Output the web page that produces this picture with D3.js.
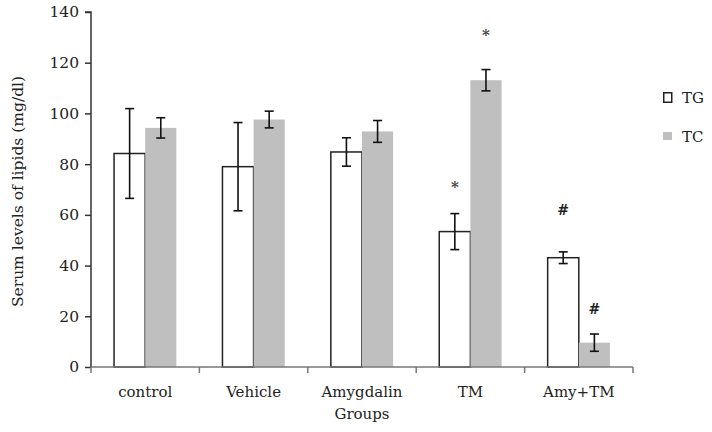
<!DOCTYPE html>
<html><head><meta charset="utf-8">
<script src="https://cdn.jsdelivr.net/npm/d3@7"></script>
<style>body{margin:0;background:#fff;} svg{display:block;} text{-webkit-font-smoothing:antialiased;}</style>
</head><body>
<svg id="c" width="712" height="432"></svg>
<script>
const categories = ["control", "Vehicle", "Amygdalin", "TM", "Amy+TM"];
const seriesNames = ["TG", "TC"];
const tgValues = [84.2, 79.0, 84.8, 53.4, 43.1];
const tgErrors = [17.7, 17.4, 5.6, 7.1, 2.3];
const tcValues = [94.3, 97.6, 92.9, 113.1, 9.6];
const tcErrors = [4.0, 3.3, 4.3, 4.2, 3.4];
const tgMarks = ["", "", "", "*", "#"];
const tcMarks = ["", "", "", "*", "#"];
const tgMarkAt = [0, 0, 0, 72, 62];
const tcMarkAt = [0, 0, 0, 132, 23];
const yTicks = [0, 20, 40, 60, 80, 100, 120, 140];

(function () {
const svg = d3.select("#c");
const font = "DejaVu Serif, Georgia, serif";
const pLeft = 91, pRight = 633, pTop = 12, pBottom = 367;
const x = d3.scaleBand().domain(categories).range([pLeft, pRight]).paddingInner(0).paddingOuter(0);
const x1 = d3.scaleBand().domain(seriesNames).range([0, x.bandwidth()]).paddingOuter(0.74).paddingInner(0);
const y = d3.scaleLinear().domain([0, 140]).range([pBottom, pTop]);
const colors = {TG: "#ffffff", TC: "#bfbfbf"};

const rows = categories.map((c, i) => ({
  cat: c,
  bars: [
    {s: "TG", v: tgValues[i], e: tgErrors[i], m: tgMarks[i], my: tgMarkAt[i]},
    {s: "TC", v: tcValues[i], e: tcErrors[i], m: tcMarks[i], my: tcMarkAt[i]}
  ]
}));

const g = svg.append("g");
const grp = g.selectAll("g.grp").data(rows).enter().append("g")
  .attr("transform", d => `translate(${x(d.cat)},0)`);

grp.selectAll("rect").data(d => d.bars).enter().append("rect")
  .attr("x", d => x1(d.s))
  .attr("y", d => y(d.v))
  .attr("width", x1.bandwidth())
  .attr("height", d => y(0) - y(d.v))
  .attr("fill", d => colors[d.s])
  .attr("stroke", d => d.s === "TG" ? "#222" : "none")
  .attr("stroke-width", 1.5);

const eb = grp.selectAll("g.eb").data(d => d.bars).enter().append("g")
  .attr("stroke", "#111").attr("stroke-width", 1.6);
const cx = d => x1(d.s) + x1.bandwidth() / 2;
eb.append("line").attr("x1", cx).attr("x2", cx).attr("y1", d => y(d.v + d.e)).attr("y2", d => y(d.v - d.e));
eb.append("line").attr("x1", d => cx(d) - 4.5).attr("x2", d => cx(d) + 4.5).attr("y1", d => y(d.v + d.e)).attr("y2", d => y(d.v + d.e));
eb.append("line").attr("x1", d => cx(d) - 4.5).attr("x2", d => cx(d) + 4.5).attr("y1", d => y(d.v - d.e)).attr("y2", d => y(d.v - d.e));

grp.selectAll("text.mk").data(d => d.bars.filter(b => b.m)).enter().append("text")
  .attr("x", cx).attr("y", d => y(d.my))
  .attr("text-anchor", "middle").attr("dominant-baseline", "central")
  .attr("font-family", font)
  .attr("font-size", d => d.m === "#" ? 14 : 15)
  .attr("font-weight", "bold")
  .attr("fill", d => d.m === "#" ? "#222" : "#444")
  .attr("dy", d => d.m === "*" ? 3 : 0)
  .text(d => d.m);

// axes
const yAxis = svg.append("g").attr("transform", `translate(${pLeft},0)`)
  .call(d3.axisLeft(y).tickValues(yTicks).tickSize(6).tickPadding(6));
yAxis.select(".domain").attr("stroke", "#333").attr("stroke-width", 1.5).attr("d", `M-6,${pTop}H0V${pBottom}`);
yAxis.selectAll(".tick line").attr("stroke", "#333").attr("stroke-width", 1.5);
yAxis.selectAll("text").attr("font-family", font).attr("font-size", 15.5).attr("fill", "#222");

const xAxis = svg.append("g").attr("transform", `translate(0,${pBottom})`)
  .call(d3.axisBottom(x).tickSize(0).tickPadding(19));
xAxis.select(".domain").attr("stroke", "#777").attr("stroke-width", 1.5).attr("d", `M${pLeft},0H${pRight}`);
xAxis.selectAll("text").attr("font-family", font).attr("font-size", 15).attr("fill", "#222");
const xt = svg.append("g").attr("transform", `translate(0,${pBottom})`);
xt.selectAll("line").data(categories.concat(["end"])).enter().append("line")
  .attr("x1", (d, i) => pLeft + i * x.bandwidth()).attr("x2", (d, i) => pLeft + i * x.bandwidth())
  .attr("y1", 0).attr("y2", 6).attr("stroke", "#777").attr("stroke-width", 1.5);

svg.append("text").attr("x", (pLeft + pRight) / 2).attr("y", 419).attr("text-anchor", "middle")
  .attr("font-family", font).attr("font-size", 15).attr("fill", "#222").text("Groups");

svg.append("text").attr("transform", `translate(23,${(pTop + pBottom) / 2 + 2}) rotate(-90)`)
  .attr("text-anchor", "middle").attr("font-family", font).attr("font-size", 15.5).attr("fill", "#222")
  .text("Serum levels of lipids (mg/dl)");

// legend
const lg = svg.append("g").attr("transform", "translate(663,92)");
const li = lg.selectAll("g").data(seriesNames).enter().append("g")
  .attr("transform", (d, i) => `translate(0,${i * 39})`);
li.append("rect").attr("x", d => d === "TG" ? 0.75 : 0).attr("y", d => d === "TG" ? 0.75 : 1)
  .attr("width", d => d === "TG" ? 8 : 9).attr("height", d => d === "TG" ? 9.5 : 8)
  .attr("fill", d => colors[d]).attr("stroke", d => d === "TG" ? "#222" : "none").attr("stroke-width", 1.5);
li.append("text").attr("x", 19).attr("y", 5.5).attr("dominant-baseline", "central")
  .attr("font-family", font).attr("font-size", 15).attr("fill", "#222").text(d => d);
})();
</script>
</body></html>
